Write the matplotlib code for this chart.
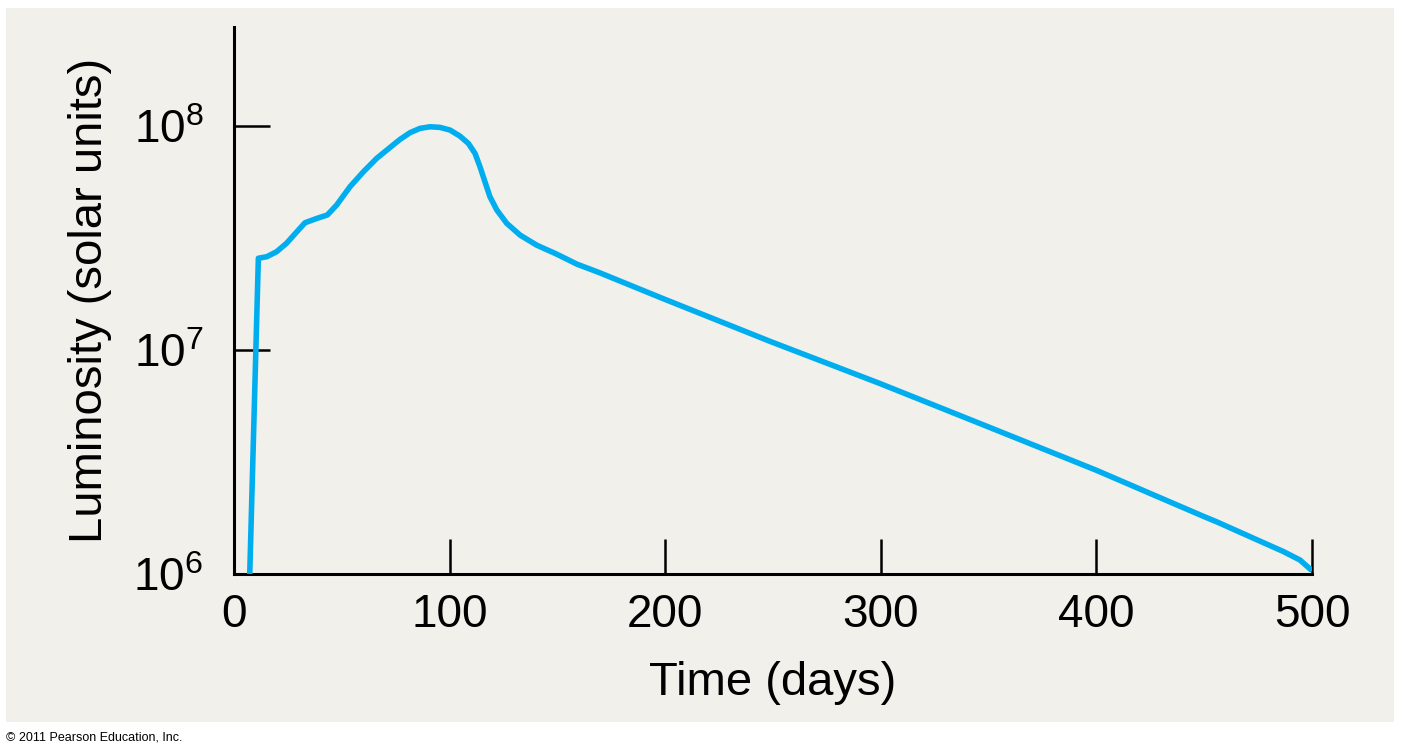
import matplotlib
matplotlib.use("Agg")
import matplotlib.pyplot as plt
from matplotlib.patches import Rectangle
from matplotlib.ticker import FixedLocator, NullLocator

# ---- data ----
days = [7.3, 11.3, 15.2, 19.8, 24.4, 29.1, 32.9, 38.4, 43.3, 47.6, 53.8,
        60.0, 66.2, 72.4, 77.0, 81.6, 86.3, 90.9, 95.5, 100.2, 104.8, 108.7,
        111.8, 114.1, 116.4, 118.7, 121.9, 126.5, 132.7, 140.4, 149.7, 159.0,
        169.8, 198.8, 249.0, 299.4, 349.6, 399.8, 424.9, 450.2, 455.8, 475.3,
        486.7, 494.4, 500.0]
luminosity = [1.0e6, 2.57e7, 2.61e7, 2.75e7, 3.00e7, 3.37e7, 3.70e7, 3.87e7,
              4.01e7, 4.44e7, 5.36e7, 6.25e7, 7.18e7, 8.03e7, 8.72e7, 9.34e7,
              9.77e7, 9.93e7, 9.87e7, 9.60e7, 9.02e7, 8.37e7, 7.55e7, 6.58e7,
              5.64e7, 4.84e7, 4.22e7, 3.68e7, 3.26e7, 2.94e7, 2.68e7, 2.42e7,
              2.21e7, 1.70e7, 1.09e7, 7.10e6, 4.55e6, 2.91e6, 2.29e6, 1.80e6,
              1.71e6, 1.41e6, 1.26e6, 1.155e6, 1.035e6]
x_ticks = [0, 100, 200, 300, 400, 500]
x_tick_labels = ["0", "100", "200", "300", "400", "500"]
y_ticks = [1e6, 1e7, 1e8]
y_tick_labels = [r"$\mathregular{10^{6}}$", r"$\mathregular{10^{7}}$", r"$\mathregular{10^{8}}$"]
x_label = "Time (days)"
y_label = "Luminosity (solar units)"
credit = "\u00a9 2011 Pearson Education, Inc."

plt.rcParams["font.family"] = ["Liberation Sans", "DejaVu Sans"]
plt.rcParams["mathtext.fontset"] = "custom"
plt.rcParams["mathtext.rm"] = "Liberation Sans"

W, H = 1402, 753
fig = plt.figure(figsize=(W / 100, H / 100), dpi=100, facecolor="white")

panel_color = "#f1f0eb"
fig.patches.append(Rectangle((6 / W, 1 - 722 / H), (1394 - 6) / W, (722 - 8) / H,
                             transform=fig.transFigure, facecolor=panel_color,
                             edgecolor="none", zorder=-10))

ax = fig.add_axes([234 / W, 1 - 574 / H, (1312 - 234) / W, (574 - 27) / H])
ax.set_facecolor("none")
ax.set_zorder(5)

ax.plot(days, luminosity, color="#00aeef", lw=4.0, solid_joinstyle="round",
        solid_capstyle="butt", zorder=3)

ax.set_yscale("log")
ax.set_xlim(0, 500)
ax.set_ylim(1e6, 2.77e8)

for s in ["top", "right"]:
    ax.spines[s].set_visible(False)
for s in ["left", "bottom"]:
    ax.spines[s].set_linewidth(2.2)
    ax.spines[s].set_color("black")

ax.xaxis.set_major_locator(FixedLocator(x_ticks))
ax.set_xticklabels(x_tick_labels)
ax.yaxis.set_major_locator(FixedLocator(y_ticks))
ax.yaxis.set_minor_locator(NullLocator())
ax.set_yticklabels(y_tick_labels)

ax.tick_params(axis="x", direction="in", length=25, width=1.8, pad=14,
               labelsize=33, colors="black")
ax.tick_params(axis="y", direction="in", length=26, width=1.8, pad=22,
               labelsize=33, colors="black")

ax.set_xlabel(x_label, fontsize=34, va="center")
ax.xaxis.set_label_coords(0.5, (574 - 683) / (574 - 27))
ax.set_ylabel(y_label, fontsize=34, va="center")
ax.yaxis.set_label_coords((90 - 234) / (1312 - 234), 0.5)

fig.text(6 / W, 1 - 737 / H, credit, fontsize=9, va="center", ha="left")

fig.savefig("out.png", dpi=100, facecolor="white")
